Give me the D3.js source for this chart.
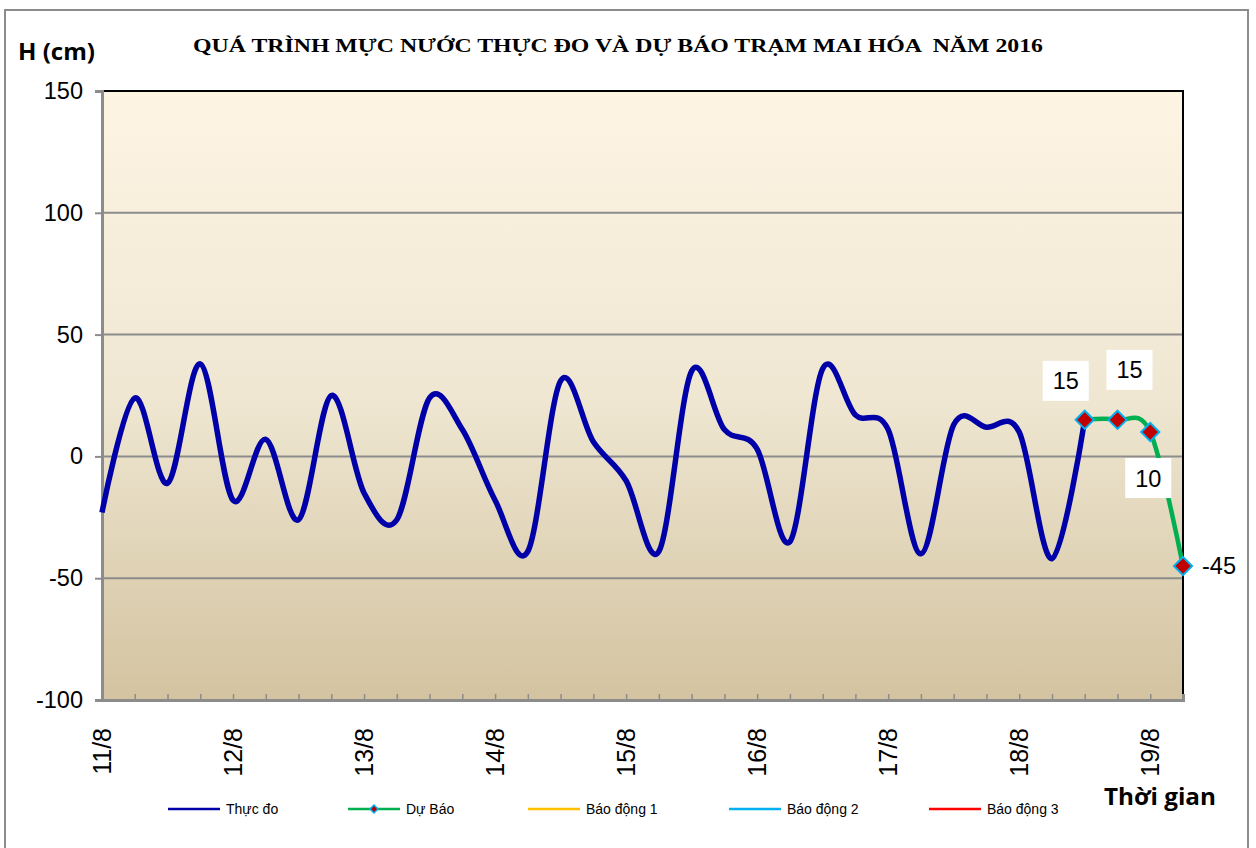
<!DOCTYPE html>
<html>
<head>
<meta charset="utf-8">
<script src="https://cdn.jsdelivr.net/npm/d3@7"></script>
<style>
  body { margin: 0; background: #fff; }
  svg { display: block; }
</style>
</head>
<body>
<svg id="chart" width="1256" height="848"></svg>
<script>
// du lieu: 6 gio mot diem, tu 11/8 den 19/8
const dayLabels = ["11/8", "12/8", "13/8", "14/8", "15/8", "16/8", "17/8", "18/8", "19/8"]
const observed = [-23, 24, -11, 38, -18, 7, -26, 25, -15, -26, 24, 11, -18, -39, 31, 6, -10, -39, 35, 11, 3, -35, 36, 17, 11, -40, 13, 12, 10, -42, 15]
const forecastIdx = [30, 31, 32, 33]
const forecast = [15, 15, 10, -45]
const yTicks = [-100, -50, 0, 50, 100, 150]
const legendNames = ["Thực đo", "Dự Báo", "Báo động 1", "Báo động 2", "Báo động 3"]
const legendColors = ["#0000A8", "#00B050", "#FFC000", "#00B0F0", "#FF0000"]

const svg = d3.select('#chart')

const x = d3.scaleLinear([0, 33], [102, 1183])
const y = d3.scaleLinear([-100, 150], [700, 91])

// gradient nen
const defs = svg.append('defs')
const grad = defs.append('linearGradient')
    .attr('id', 'bg')
    .attr('x1', 0).attr('y1', 0).attr('x2', 0).attr('y2', 1)
grad.append('stop').attr('offset', '0%').attr('stop-color', '#FDF4E3')
grad.append('stop').attr('offset', '50%').attr('stop-color', '#EFE7D2')
grad.append('stop').attr('offset', '100%').attr('stop-color', '#D3C3A0')

// khung ngoai
svg.append('rect')
    .attr('x', 5).attr('y', 10)
    .attr('width', 1243).attr('height', 850)
    .attr('fill', '#fff')
    .attr('stroke', '#8c8c8c')
    .attr('stroke-width', 2)

// vung ve
svg.append('rect')
    .attr('x', x(0)).attr('y', y(150))
    .attr('width', x(33) - x(0)).attr('height', y(-100) - y(150))
    .attr('fill', 'url(#bg)')

// luoi ngang
svg.append('g')
    .selectAll('line')
    .data(yTicks.filter(d => d > -100 && d < 150))
    .join('line')
    .attr('x1', x(0)).attr('x2', x(33))
    .attr('y1', d => y(d)).attr('y2', d => y(d))
    .attr('stroke', '#8c8c8c')
    .attr('stroke-width', 2)

// vien tren va phai
svg.append('path')
    .attr('d', `M${x(0)},${y(150)} H${x(33)} V${y(-100)}`)
    .attr('fill', 'none')
    .attr('stroke', '#000')
    .attr('stroke-width', 2)

// truc Y
const yAxis = d3.axisLeft(y).tickValues(yTicks).tickSize(7).tickPadding(12).tickFormat(d => String(d))
svg.append('g')
    .attr('transform', `translate(${x(0)},0)`)
    .call(yAxis)
    .call(g => g.select('.domain').attr('stroke', '#8c8c8c').attr('stroke-width', 3))
    .call(g => g.selectAll('.tick line').attr('stroke', '#8c8c8c').attr('stroke-width', 2))
    .call(g => g.selectAll('.tick text')
        .attr('font-family', 'Liberation Sans, Arial, sans-serif')
        .attr('font-size', '23.5px')
        .attr('fill', '#000'))

// truc X (vach chia huong vao trong)
const xAxis = d3.axisBottom(x).tickValues(d3.range(1, 33)).tickSize(-6).tickFormat('')
svg.append('g')
    .attr('transform', `translate(0,${y(-100)})`)
    .call(xAxis)
    .call(g => g.select('.domain').attr('stroke', '#8c8c8c').attr('stroke-width', 3))
    .call(g => g.selectAll('.tick line').attr('stroke', '#8c8c8c').attr('stroke-width', 1.5))

// nhan ngay
svg.append('g')
    .selectAll('text')
    .data(dayLabels)
    .join('text')
    .attr('transform', (d, i) => `translate(${x(i * 4)},728) rotate(-90)`)
    .attr('dy', '0.36em')
    .attr('text-anchor', 'end')
    .attr('font-family', 'Liberation Sans, Arial, sans-serif')
    .attr('font-size', '25px')
    .attr('fill', '#000')
    .text(d => d)

// duong thuc do
const line = d3.line()
    .x(d => x(d[0]))
    .y(d => y(d[1]))
    .curve(d3.curveCardinal.tension(0))

svg.append('path')
    .datum(observed.map((v, i) => [i, v]))
    .attr('d', line)
    .attr('fill', 'none')
    .attr('stroke', '#0000A8')
    .attr('stroke-width', 5.5)
    .attr('stroke-linejoin', 'round')

// duong du bao
const fc = forecast.map((v, i) => [forecastIdx[i], v])
svg.append('path')
    .datum(fc)
    .attr('d', line)
    .attr('fill', 'none')
    .attr('stroke', '#00B050')
    .attr('stroke-width', 4.5)

const diamond = d3.symbol().type(d3.symbolDiamond2).size(210)
svg.append('g')
    .selectAll('path')
    .data(fc)
    .join('path')
    .attr('transform', d => `translate(${x(d[0])},${y(d[1])})`)
    .attr('d', diamond)
    .attr('fill', '#C00000')
    .attr('stroke', '#00B0F0')
    .attr('stroke-width', 2)

// nhan gia tri du bao
const lblOffsets = [[-19, -39], [12, -50], [-2, 46], [36, 0]]
const lbl = svg.append('g')
    .selectAll('g')
    .data(fc)
    .join('g')
    .attr('transform', (d, i) => `translate(${x(d[0]) + lblOffsets[i][0]},${y(d[1]) + lblOffsets[i][1]})`)
lbl.append('rect')
    .attr('x', -23)
    .attr('y', -20)
    .attr('width', 46).attr('height', 40)
    .attr('fill', (d, i) => i === 3 ? 'none' : '#fff')
lbl.append('text')
    .attr('text-anchor', 'middle')
    .attr('dy', '0.36em')
    .attr('font-family', 'Liberation Sans, Arial, sans-serif')
    .attr('font-size', '23.5px')
    .attr('fill', '#000')
    .text(d => d[1])

// tieu de
svg.append('text')
    .text('QUÁ TRÌNH MỰC NƯỚC THỰC ĐO VÀ DỰ BÁO TRẠM MAI HÓA  NĂM 2016')
    .attr('x', 618).attr('y', 52)
    .attr('text-anchor', 'middle')
    .attr('font-family', 'Liberation Serif, Times New Roman, serif')
    .attr('font-weight', 'bold')
    .attr('font-size', '19.5px')
    .attr('textLength', 850)
    .attr('lengthAdjust', 'spacingAndGlyphs')
    .attr('xml:space', 'preserve')
    .attr('fill', '#000')

svg.append('text')
    .text('H (cm)')
    .attr('x', 18).attr('y', 60)
    .attr('font-family', 'Open Sans, sans-serif')
    .attr('font-weight', 'bold')
    .attr('font-size', '24px')
    .attr('textLength', 77)
    .attr('lengthAdjust', 'spacingAndGlyphs')
    .attr('fill', '#000')

svg.append('text')
    .text('Thời gian')
    .attr('x', 1104).attr('y', 805)
    .attr('font-family', 'Open Sans, sans-serif')
    .attr('font-weight', 'bold')
    .attr('font-size', '23px')
    .attr('textLength', 112)
    .attr('lengthAdjust', 'spacingAndGlyphs')
    .attr('fill', '#000')

// chu giai
const legendX = [168, 348, 528, 729, 929]
const leg = svg.append('g')
    .selectAll('g')
    .data(legendNames)
    .join('g')
    .attr('transform', (d, i) => `translate(${legendX[i]},809)`)
leg.append('line')
    .attr('x1', 0).attr('x2', 52)
    .attr('stroke', (d, i) => legendColors[i])
    .attr('stroke-width', 2.5)
leg.filter((d, i) => i === 1)
    .append('path')
    .attr('transform', 'translate(26,0)')
    .attr('d', d3.symbol().type(d3.symbolDiamond2).size(40))
    .attr('fill', '#C00000')
    .attr('stroke', '#00B0F0')
    .attr('stroke-width', 1.5)
leg.append('text')
    .attr('x', 58)
    .attr('dy', '0.36em')
    .attr('font-family', 'Liberation Sans, Arial, sans-serif')
    .attr('font-size', '14px')
    .attr('fill', '#000')
    .text(d => d)
</script>
</body>
</html>
